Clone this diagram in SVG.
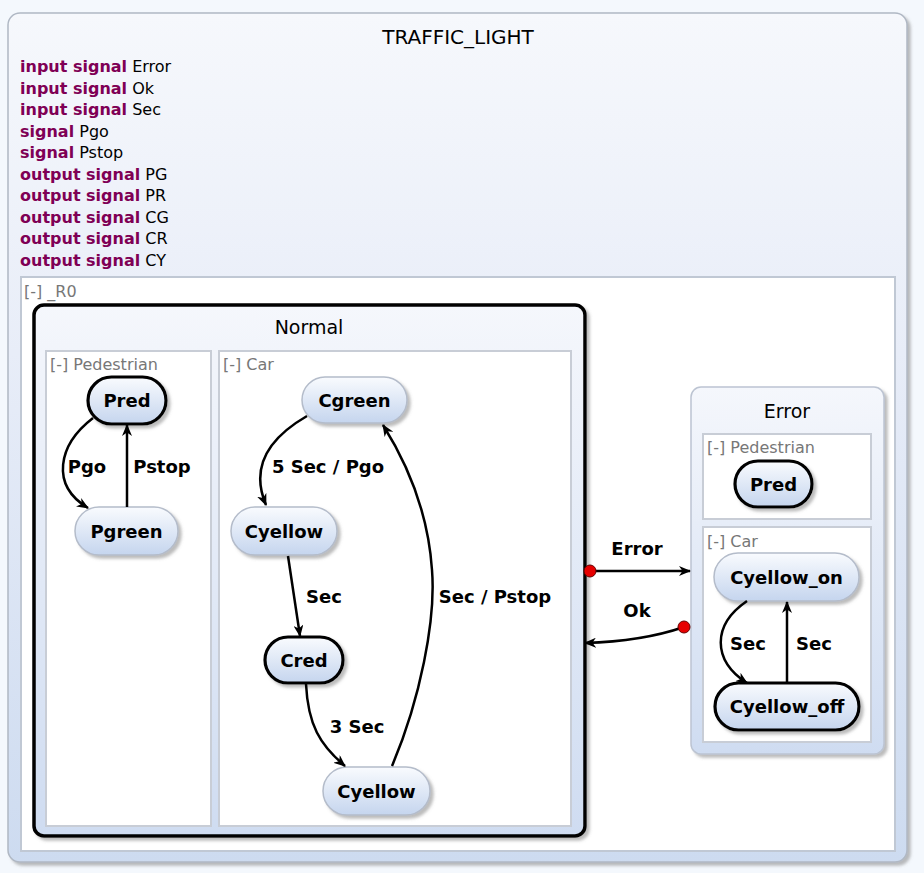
<svg xmlns="http://www.w3.org/2000/svg" width="924" height="873" viewBox="0 0 924 873">
<style>
text{font-family:"DejaVu Sans","Liberation Sans",sans-serif;}
.decl{font-size:16px;fill:#000;}
.kw{font-weight:bold;fill:#7f0055;}
.rlabel{font-size:16px;fill:#777;}
.stitle{font-size:19px;fill:#000;text-anchor:middle;}
.nlabel{font-size:18px;font-weight:bold;fill:#000;text-anchor:middle;}
.elabel{font-size:18px;font-weight:bold;fill:#000;text-anchor:middle;}
.node{fill:url(#ng);stroke:#b4bcca;stroke-width:1.5;filter:url(#sh);}
.node.thick{stroke:#000;stroke-width:3.2;}
.region{fill:#fff;stroke:#c8cdd6;stroke-width:2;}
.edge{fill:none;stroke:#000;stroke-width:2.5;marker-end:url(#arr);}
.dot{fill:#e60000;stroke:#600;stroke-width:1;}
</style>
<defs>
<linearGradient id="ng" x1="0" y1="0" x2="0" y2="1">
<stop offset="0" stop-color="#f9fbfe"/>
<stop offset="1" stop-color="#c5d5ee"/>
</linearGradient>
<linearGradient id="og" x1="0" y1="0" x2="0" y2="1">
<stop offset="0" stop-color="#f6f8fc"/>
<stop offset="0.4" stop-color="#e8edf8"/>
<stop offset="1" stop-color="#cddbf0"/>
</linearGradient>
<linearGradient id="sg" x1="0" y1="0" x2="0" y2="1">
<stop offset="0" stop-color="#f5f7fc"/>
<stop offset="1" stop-color="#cfdcf1"/>
</linearGradient>
<filter id="sh" x="-20%" y="-20%" width="150%" height="160%">
<feDropShadow dx="3" dy="3" stdDeviation="1.5" flood-color="#7a7a7a" flood-opacity="0.5"/>
</filter>
<marker id="arr" viewBox="0 0 12 10" refX="11" refY="5" markerWidth="12" markerHeight="10" markerUnits="userSpaceOnUse" orient="auto">
<path d="M0,0 L12,5 L0,10 L3.5,5 z" fill="#000"/>
</marker>
</defs>
<rect width="924" height="873" fill="#f4f8fd"/>
<g id="TRAFFIC_LIGHT">
<rect x="8" y="13" width="899" height="849" rx="12" fill="url(#og)" stroke="#b0b8c4" stroke-width="1.5" filter="url(#sh)"/>
<text x="458" y="44" style="font-size:20px;text-anchor:middle;">TRAFFIC_LIGHT</text>
<text class="decl" x="20" y="72"><tspan class="kw">input signal</tspan> Error</text>
<text class="decl" x="20" y="93.5"><tspan class="kw">input signal</tspan> Ok</text>
<text class="decl" x="20" y="115"><tspan class="kw">input signal</tspan> Sec</text>
<text class="decl" x="20" y="136.5"><tspan class="kw">signal</tspan> Pgo</text>
<text class="decl" x="20" y="158"><tspan class="kw">signal</tspan> Pstop</text>
<text class="decl" x="20" y="179.5"><tspan class="kw">output signal</tspan> PG</text>
<text class="decl" x="20" y="201"><tspan class="kw">output signal</tspan> PR</text>
<text class="decl" x="20" y="222.5"><tspan class="kw">output signal</tspan> CG</text>
<text class="decl" x="20" y="244"><tspan class="kw">output signal</tspan> CR</text>
<text class="decl" x="20" y="265.5"><tspan class="kw">output signal</tspan> CY</text>
</g>
<g id="R0">
<rect x="21" y="277" width="874" height="574" fill="#fff" stroke="#c0c8d4" stroke-width="2"/>
<text class="rlabel" x="24" y="297">[-] _R0</text>
</g>
<g id="Normal">
<rect x="34" y="305" width="551" height="531" rx="10" fill="url(#sg)" stroke="#000" stroke-width="3.5" filter="url(#sh)"/>
<text class="stitle" x="309" y="334">Normal</text>
<rect class="region" x="46" y="351" width="165" height="475"/>
<text class="rlabel" x="50" y="370">[-] Pedestrian</text>
<rect class="region" x="219" y="351" width="352" height="475"/>
<text class="rlabel" x="223" y="370">[-] Car</text>
</g>
<g id="Error">
<rect x="691" y="387" width="193" height="367" rx="10" fill="url(#sg)" stroke="#bcc4d2" stroke-width="1.5" filter="url(#sh)"/>
<text class="stitle" x="787" y="418">Error</text>
<rect class="region" x="703" y="434" width="168" height="85"/>
<text class="rlabel" x="707" y="453">[-] Pedestrian</text>
<rect class="region" x="703" y="527" width="168" height="215"/>
<text class="rlabel" x="707" y="547">[-] Car</text>
</g>
<g id="Normal_Pred">
<rect class="node thick" x="88" y="377" width="78" height="47" rx="23.5"/>
<text class="nlabel" x="127" y="407">Pred</text>
</g>
<g id="Normal_Pgreen">
<rect class="node" x="75" y="507" width="103" height="48" rx="24"/>
<text class="nlabel" x="126.5" y="537.5">Pgreen</text>
</g>
<g id="Normal_Cgreen">
<rect class="node" x="302" y="377" width="105" height="46" rx="23"/>
<text class="nlabel" x="354.5" y="406.5">Cgreen</text>
</g>
<g id="Normal_Cyellow1">
<rect class="node" x="231" y="507" width="106" height="48" rx="24"/>
<text class="nlabel" x="284" y="537.5">Cyellow</text>
</g>
<g id="Normal_Cred">
<rect class="node thick" x="265" y="637" width="78" height="46" rx="23"/>
<text class="nlabel" x="304" y="666.5">Cred</text>
</g>
<g id="Normal_Cyellow2">
<rect class="node" x="323" y="767" width="107" height="48" rx="24"/>
<text class="nlabel" x="376.5" y="797.5">Cyellow</text>
</g>
<g id="Error_Pred">
<rect class="node thick" x="735" y="461" width="77" height="46" rx="23"/>
<text class="nlabel" x="773.5" y="490.5">Pred</text>
</g>
<g id="Error_Cyellow_on">
<rect class="node" x="714" y="553" width="145" height="48" rx="24"/>
<text class="nlabel" x="786.5" y="583.5">Cyellow_on</text>
</g>
<g id="Error_Cyellow_off">
<rect class="node thick" x="715" y="683" width="144" height="47" rx="23.5"/>
<text class="nlabel" x="787" y="713">Cyellow_off</text>
</g>
<g id="connectors">
<path class="edge" d="M93,418 C58,445 50,485 88,508"/>
<text class="elabel" x="87" y="472.5">Pgo</text>
<path class="edge" d="M127,507 L127,425"/>
<text class="elabel" x="162" y="472.5">Pstop</text>
<path class="edge" d="M307,416 C262,442 252,472 266,505"/>
<text class="elabel" x="328" y="472.5">5 Sec / Pgo</text>
<path class="edge" d="M288,556 L300,636"/>
<text class="elabel" x="324" y="602.5">Sec</text>
<path class="edge" d="M306,684 C308,725 320,745 345,766"/>
<text class="elabel" x="357" y="732.5">3 Sec</text>
<path class="edge" d="M392,766 C420,700 436,620 432,570 C428,510 405,460 383,425"/>
<text class="elabel" x="495" y="602.5">Sec / Pstop</text>
<path class="edge" d="M590,571 L690,571"/>
<circle class="dot" cx="590" cy="571" r="6"/>
<text class="elabel" x="637" y="554.5">Error</text>
<path class="edge" d="M684,627 C652,638 620,642 585,643"/>
<circle class="dot" cx="684" cy="627" r="6"/>
<text class="elabel" x="637" y="616.5">Ok</text>
<path class="edge" d="M747,601 C712,625 712,660 747,683"/>
<text class="elabel" x="748" y="649.5">Sec</text>
<path class="edge" d="M787,683 L787,602"/>
<text class="elabel" x="814" y="649.5">Sec</text>
</g>
</svg>
